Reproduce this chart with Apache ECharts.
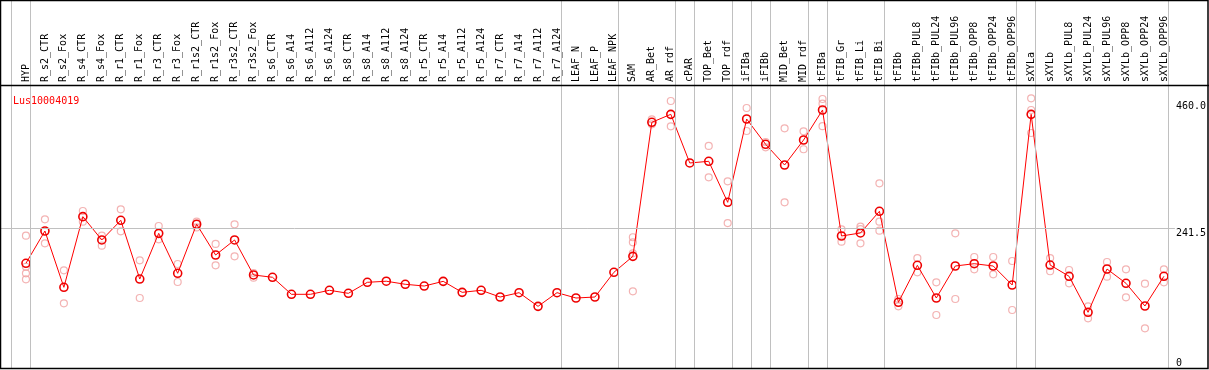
<!DOCTYPE html>
<html>
<head>
<meta charset="utf-8">
<script src="https://cdn.jsdelivr.net/npm/echarts@6/dist/echarts.min.js"></script>
<style>
html,body{margin:0;padding:0;background:#fff;}
#chart{width:1209px;height:370px;}
</style>
</head>
<body>
<div id="chart"></div>
<script>
const geneName = 'Lus10004019';
const categories = ['HYP','R_s2_CTR','R_s2_Fox','R_s4_CTR','R_s4_Fox','R_r1_CTR','R_r1_Fox','R_r3_CTR','R_r3_Fox','R_r1s2_CTR','R_r1s2_Fox','R_r3s2_CTR','R_r3s2_Fox','R_s6_CTR','R_s6_A14','R_s6_A112','R_s6_A124','R_s8_CTR','R_s8_A14','R_s8_A112','R_s8_A124','R_r5_CTR','R_r5_A14','R_r5_A112','R_r5_A124','R_r7_CTR','R_r7_A14','R_r7_A112','R_r7_A124','LEAF_N','LEAF_P','LEAF_NPK','SAM','AR_Bet','AR_rdf','cPAR','TOP_Bet','TOP_rdf','iFIBa','iFIBb','MID_Bet','MID_rdf','tFIBa','tFIB_Gr','tFIB_Li','tFIB_Bi','tFIBb','tFIBb_PUL8','tFIBb_PUL24','tFIBb_PUL96','tFIBb_OPP8','tFIBb_OPP24','tFIBb_OPP96','sXYLa','sXYLb','sXYLb_PUL8','sXYLb_PUL24','sXYLb_PUL96','sXYLb_OPP8','sXYLb_OPP24','sXYLb_OPP96'];
const means = [181,236.8,139.5,261.6,221.3,255.3,153.8,232.8,163.7,248.5,195.3,221.3,160.8,156.8,127.4,127.4,134.3,129.1,148.1,150,144.7,141.7,149.8,130.8,134.3,122.7,130.2,106.6,130.2,121,122.7,165.4,193,424.7,438.5,354.4,357.3,286.4,430.4,386.7,350.9,394.1,446,228.2,233.4,270.9,113.6,177.5,121,176.3,180.3,176.3,143.5,438.5,178,158.5,96.3,171.1,146.4,107.2,158.5];
const replicates = [
  [228.7,175,163.7,153.3],[257,215.5],[168.9,111.8],[271.4,252.9],[228.7,211.4],
  [274.3,236.3],[186.2,121],[245.5,222.5],[179.8,148.7],[253,243],
  [214.4,177.5],[248.4,193],[164.2,156.1],[],[],
  [],[],[],[],[],
  [],[],[],[],[],
  [],[],[],[],[],
  [],[],[226,217.3,198.3,132.6],[429.9,421.3],[461.5,417.8],
  [],[383.8,329.6],[322.7,250.6],[449.4,409.7],[390.7,381.5],
  [414.3,286.4],[409.2,378.1],[465,457,418],[239.8,218.4],[244.3,240,215.5],
  [319.3,252.9,237.3],[119.3,106.6],[190.1,165.4],[148.1,91.6],[232.8,119.3],
  [191.9,170.6],[191.9,162],[185,100.3],[466.2,446,406.2],[190.1,167.2],
  [169.4,146.4],[106.6,85.9],[183.2,157.8],[170.6,122.2],[145.7,68.6],
  [170.6,148.1]
];
const groupEnds = [-1,0,28,31,34,35,37,38,39,41,42,45,52,53,60];
const yTickValues = [0,241.5,460];
const yGridValues = [241.5];

const meanData = means.map((v,i)=>[i,v]);
const repData = [];
replicates.forEach((arr,i)=>arr.forEach(v=>repData.push([i,v])));

const chart = echarts.init(document.getElementById('chart'), null, {renderer:'canvas'});
const mono = 'DejaVu Sans Mono';
chart.setOption({
  animation:false,
  backgroundColor:'#fff',
  title:{text:geneName,left:8,top:91,textStyle:{color:'#ff0000',fontFamily:mono,fontSize:10,fontWeight:'normal'}},
  grid:{left:1,right:32,top:0,bottom:2,containLabel:false},
  xAxis:{type:'value',position:'top',offset:-85,min:-25/19,max:1151/19,
    axisLine:{show:false},axisTick:{show:false},splitLine:{show:false},
    axisLabel:{customValues:categories.map((c,i)=>i),formatter:v=>categories[Math.round(v)]||'',
      rotate:90,margin:3,fontFamily:mono,fontSize:10,color:'#000',hideOverlap:false,showMinLabel:true,showMaxLabel:true}},
  yAxis:{type:'value',position:'right',min:0,max:368/0.5785,
    axisLine:{show:false},axisTick:{show:false},splitLine:{show:false},
    axisLabel:{customValues:yTickValues,formatter:v=>v===0?'0':v.toFixed(1),margin:1,
      fontFamily:mono,fontSize:10,color:'#000',verticalAlign:'top',verticalAlignMinLabel:'bottom',verticalAlignMaxLabel:'top',
      showMinLabel:true,showMaxLabel:true}},
  series:[
    {type:'scatter',data:repData,symbol:'circle',symbolSize:7,z:3,
      itemStyle:{color:'rgba(0,0,0,0)',borderColor:'#f0a0a0',borderWidth:1.2},
      markLine:{silent:true,symbol:'none',label:{show:false},
        lineStyle:{color:'#c0c0c0',width:1,type:'solid'},
        data:groupEnds.map(g=>({xAxis:g+4.5/19})).concat(yGridValues.map(v=>({yAxis:v})))}},
    {type:'line',data:meanData,symbol:'circle',symbolSize:8,z:4,
      lineStyle:{color:'#ff0000',width:1},
      itemStyle:{color:'rgba(0,0,0,0)',borderColor:'#ee0000',borderWidth:1.6}}
  ],
  graphic:[
    {type:'rect',shape:{x:0.5,y:0.5,width:1207.5,height:368},style:{fill:null,stroke:'#000',lineWidth:1.5},z:100,silent:true},
    {type:'line',shape:{x1:0,y1:85.5,x2:1209,y2:85.5},style:{stroke:'#000',lineWidth:1.5},z:100,silent:true}
  ]
});
</script>
</body>
</html>
